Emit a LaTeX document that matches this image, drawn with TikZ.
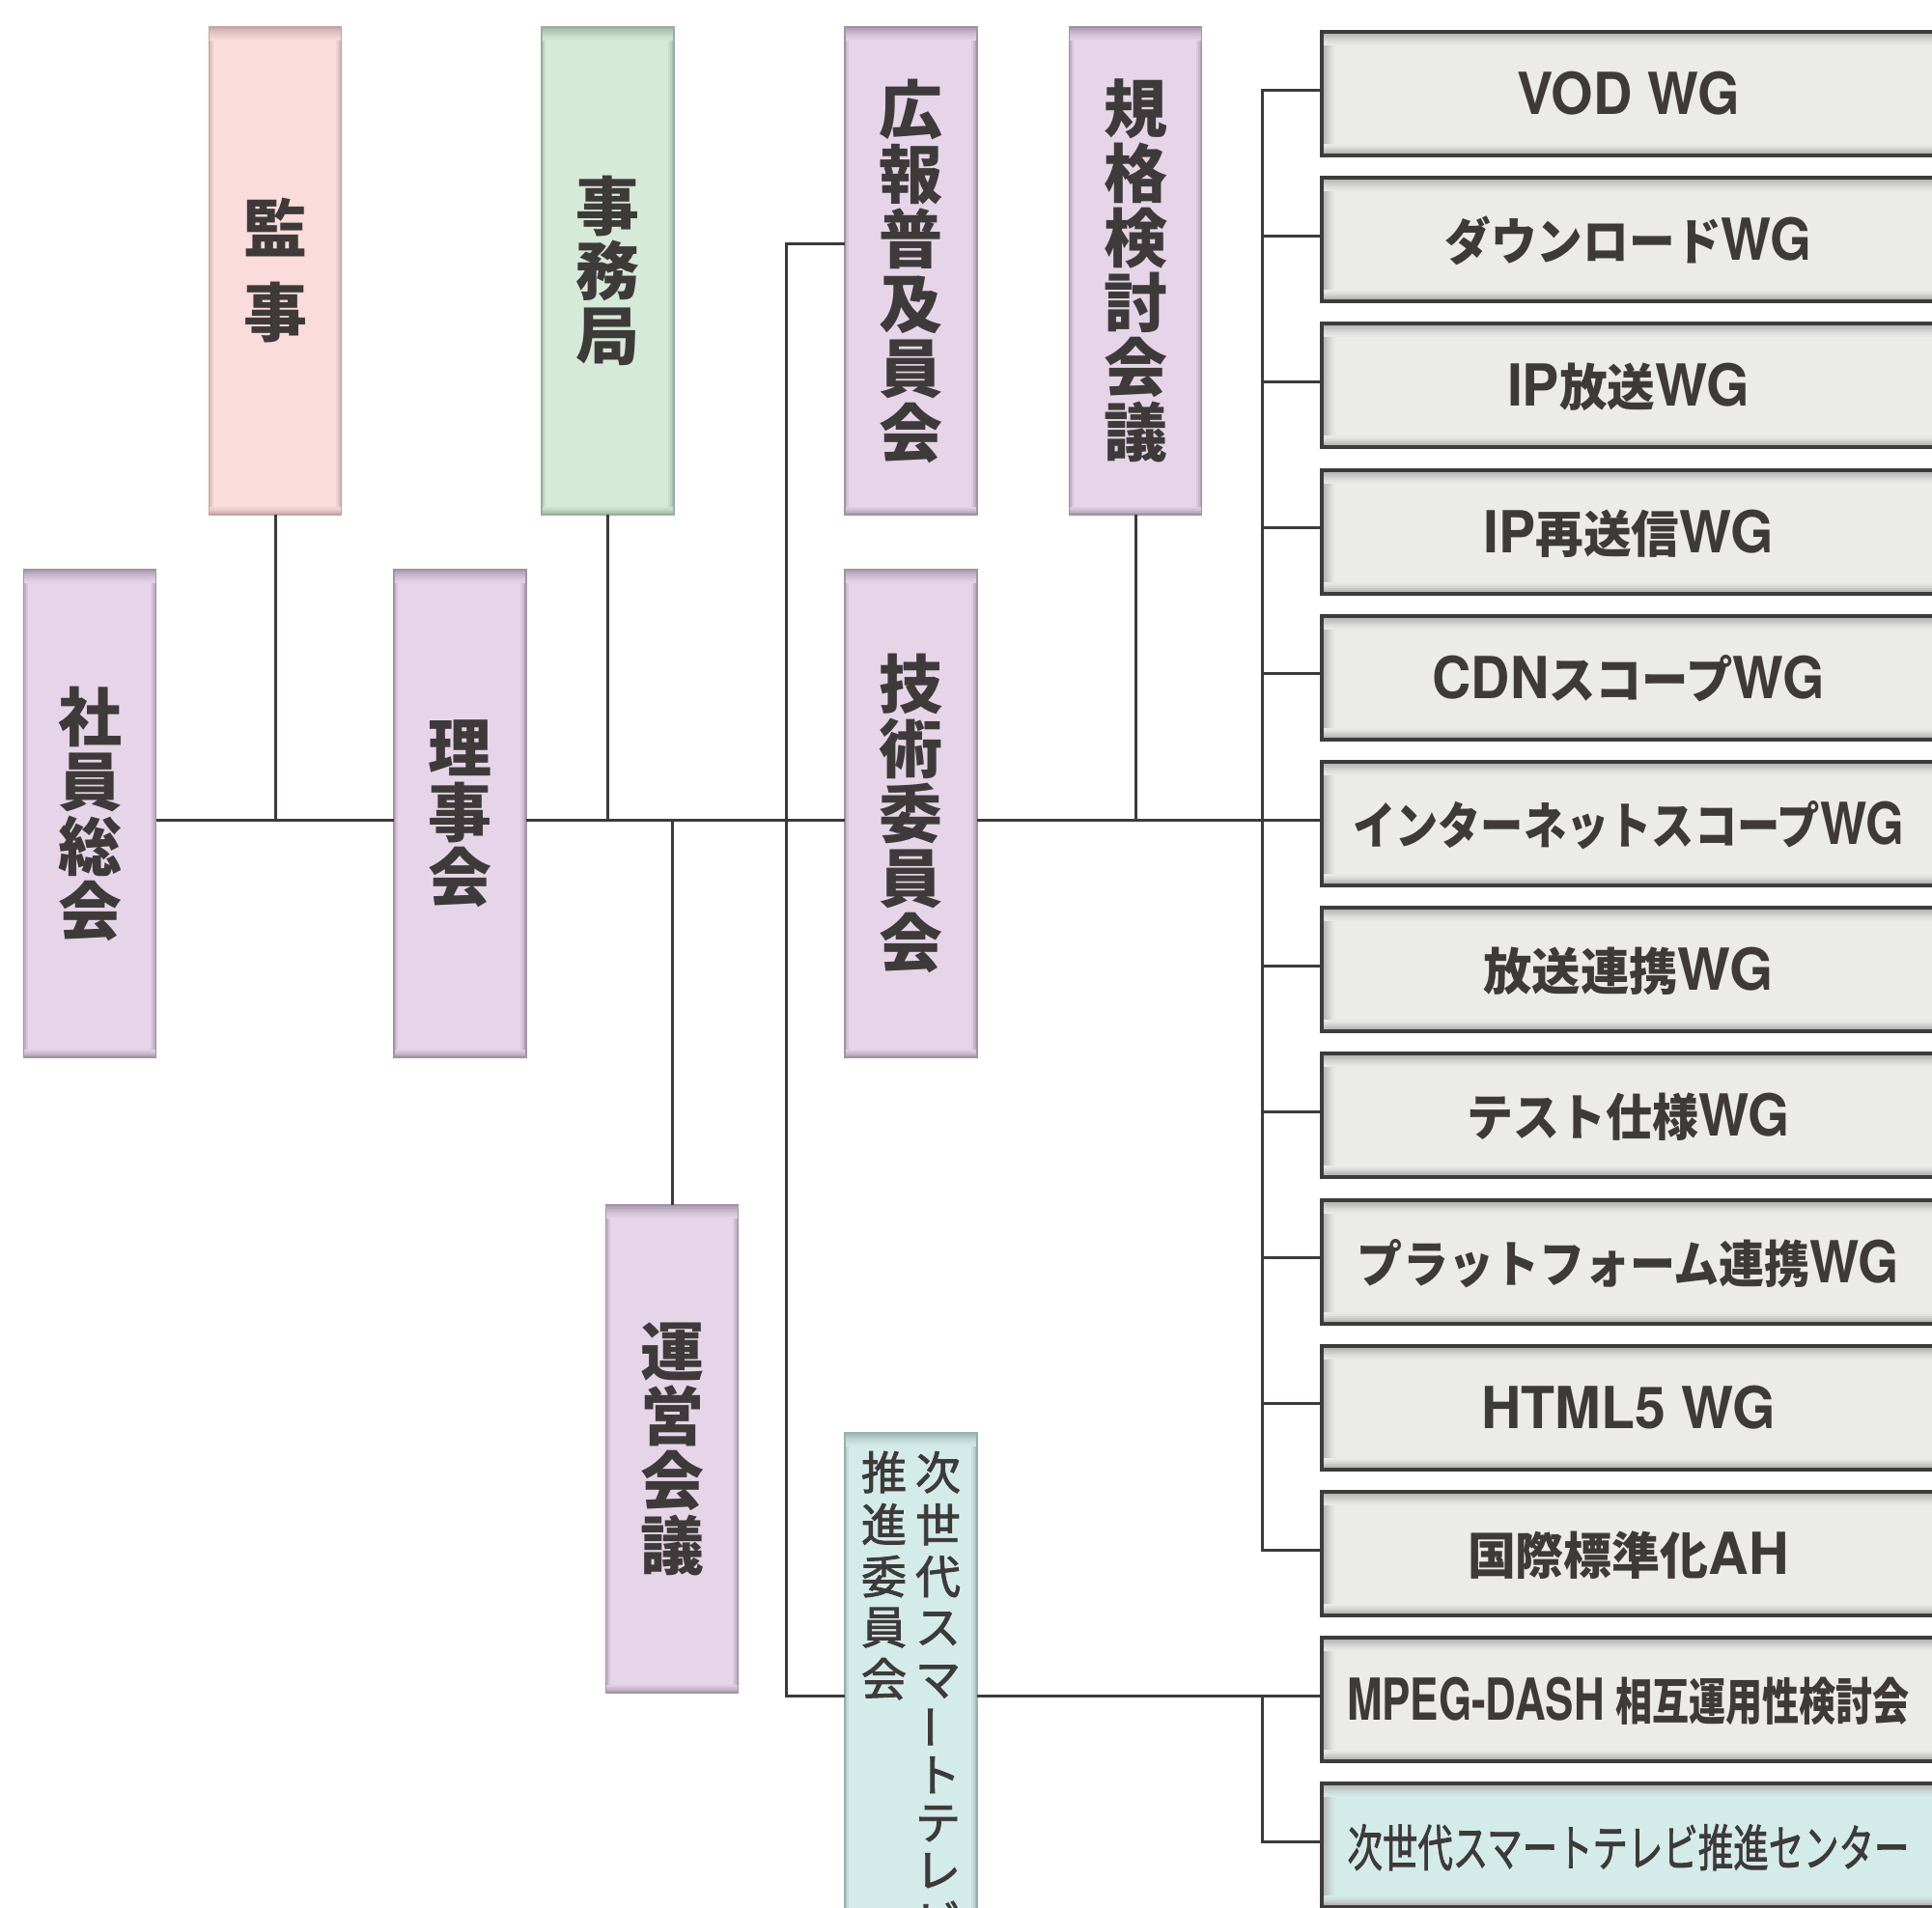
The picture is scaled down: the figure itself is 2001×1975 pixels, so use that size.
\documentclass[tikz,border=0pt]{standalone}
\usepackage{fontspec}
\usepackage{graphicx}
\newfontfamily\jpfont{Noto Sans CJK JP}
\newfontfamily\jpmed{Noto Sans CJK JP}[FakeBold=1.8]
\newfontfamily\hvfont{TeX Gyre Heros}
\definecolor{txt}{HTML}{3E3A39}
\definecolor{purf}{HTML}{E6D5E8}
\definecolor{pure}{HTML}{A393A6}
\definecolor{pinkf}{HTML}{F9DCDB}
\definecolor{pinke}{HTML}{C4A3A3}
\definecolor{grnf}{HTML}{D5EAD9}
\definecolor{grne}{HTML}{9AAF9F}
\definecolor{teaf}{HTML}{D4ECE9}
\definecolor{teae}{HTML}{98B1AE}
\definecolor{gryf}{HTML}{EBEBEA}
\definecolor{gryb}{HTML}{3D3B3B}
\definecolor{gryi}{HTML}{B4B4B3}
\newcommand\La[1]{{\hvfont\bfseries\fontsize{60}{60}\selectfont #1}}
\newcommand\Ja[1]{{\jpfont\bfseries\fontsize{52}{60}\selectfont #1}}
\newcommand\Jr[1]{{\jpmed\fontsize{52}{60}\selectfont #1}}
\newcommand\wgt[2]{\resizebox{#1pt}{\height}{#2}}
\tikzset{
  vbevel/.style 2 args={path picture={
    \foreach \k/\p in {0/55,1/25}
      \fill[#2!\p!#1] ([xshift={2pt*\k}]path picture bounding box.north west) rectangle ([xshift={2pt*\k+2pt}]path picture bounding box.south west);
    \foreach \k/\p in {0/75,1/45,2/18}
      \fill[#2!\p!#1] ([xshift={-2pt*\k}]path picture bounding box.north east) rectangle ([xshift={-2pt*\k-2pt}]path picture bounding box.south east);
    \foreach \k/\p in {0/85,1/68,2/52,3/38,4/26,5/15,6/6}
      \fill[#2!\p!#1] ([yshift={-2pt*\k}]path picture bounding box.north west) rectangle ([yshift={-2pt*\k-2pt}]path picture bounding box.north east);
    \foreach \k/\p in {0/80,1/55,2/32,3/14}
      \fill[#2!\p!#1] ([yshift={2pt*\k}]path picture bounding box.south west) rectangle ([yshift={2pt*\k+2pt}]path picture bounding box.south east);
  }},
  wbevel/.style={path picture={
    \foreach \k/\p in {0/95,1/90,2/72,3/52,4/34,5/18,6/7}
      \fill[gryi!\p!#1] ([xshift={2pt*\k}]path picture bounding box.north west) rectangle ([xshift={2pt*\k+2pt}]path picture bounding box.south west);
    \foreach \k/\p in {0/95,1/90,2/72,3/52,4/34,5/18,6/7}
      \fill[gryi!\p!#1] ([yshift={-2pt*\k}]path picture bounding box.north west) rectangle ([yshift={-2pt*\k-2pt}]path picture bounding box.north east);
    \foreach \k/\p in {0/95,1/90,2/65,3/40,4/18,5/6}
      \fill[gryi!\p!#1] ([yshift={2pt*\k}]path picture bounding box.south west) rectangle ([yshift={2pt*\k+2pt}]path picture bounding box.south east);
  }},
  vbase/.style 2 args={draw=#2, line width=1.2pt, fill=#1, vbevel={#1}{#2},
    minimum width=137pt, minimum height=505pt, inner sep=0pt, outer sep=0pt, text=txt},
  vbox/.style 2 args={vbase={#1}{#2}, align=center,
    font=\jpfont\bfseries\fontsize{66}{67}\selectfont},
  wgbox/.style={draw=gryb, line width=4pt, fill=#1, wbevel=#1,
    minimum width=635pt, minimum height=128pt, inner sep=0pt, outer sep=0pt,
    text=txt, text height=43pt, text depth=0pt},
  conn/.style={draw=txt, line width=3pt}
}
\begin{document}
\begin{tikzpicture}[x=1pt,y=-1pt]
\useasboundingbox (0,0) rectangle (2001,1975);
\clip (0,0) rectangle (2001,1975);
\fill[white] (0,0) rectangle (2001,1975);

% vertical boxes
\node[vbox={purf}{pure}] (sha) at (93,842.5) {社\\員\\総\\会};
\node[vbox={pinkf}{pinke}] (kan) at (285,280.5) {監\\[20pt]事};
\node[vbox={purf}{pure}] (rij) at (476.5,842.5) {理\\事\\会};
\node[vbox={grnf}{grne}] (jim) at (629.5,280.5) {事\\務\\局};
\node[vbox={purf}{pure}] (une) at (696,1500.5) {運\\営\\会\\議};
\node[vbox={purf}{pure}] (kou) at (943.5,280.5) {広\\報\\普\\及\\員\\会};
\node[vbox={purf}{pure}] (gij) at (943.5,842.5) {技\\術\\委\\員\\会};
\node[vbox={purf}{pure}] (kik) at (1176,280.5) {規\\格\\検\\討\\会\\議};
\node[vbase={teaf}{teae}, minimum height=557pt,
  font=\jpmed\fontsize{47}{48.3}\selectfont] (jis) at (943.5,1762.5)
  {\begin{tabular}{@{}c@{\hspace{9pt}}c@{}}
   推&次\\ 進&世\\ 委&代\\ 員&ス\\ 会&マ\\
   &\raisebox{6pt}[0pt][0pt]{\rotatebox[origin=c]{90}{ー}}\\
   &ト\\ &テ\\ &レ\\ &ビ
   \end{tabular}};

% WG boxes
\node[wgbox=gryf] (w0) at (1686.5,97) {\wgt{230}{\La{VOD WG}}};
\node[wgbox=gryf] (w1) at (1686.5,248.2) {\wgt{380}{\Ja{ダウンロード}\La{WG}}};
\node[wgbox=gryf] (w2) at (1686.5,399.4) {\wgt{251}{\La{IP}\Ja{放送}\La{WG}}};
\node[wgbox=gryf] (w3) at (1686.5,550.6) {\wgt{300}{\La{IP}\Ja{再送信}\La{WG}}};
\node[wgbox=gryf] (w4) at (1686.5,701.8) {\wgt{406}{\La{CDN}\Ja{スコープ}\La{WG}}};
\node[wgbox=gryf] (w5) at (1686.5,853) {\wgt{571}{\Ja{インターネットスコープ}\La{WG}}};
\node[wgbox=gryf] (w6) at (1686.5,1004.2) {\wgt{300}{\Ja{放送連携}\La{WG}}};
\node[wgbox=gryf] (w7) at (1686.5,1155.4) {\wgt{334}{\Ja{テスト仕様}\La{WG}}};
\node[wgbox=gryf] (w8) at (1686.5,1306.6) {\wgt{561}{\Ja{プラットフォーム連携}\La{WG}}};
\node[wgbox=gryf] (w9) at (1686.5,1457.8) {\wgt{304}{\La{HTML5 WG}}};
\node[wgbox=gryf] (w10) at (1686.5,1609) {\wgt{333}{\Ja{国際標準化}\La{AH}}};
\node[wgbox=gryf] (w11) at (1686.5,1760.2) {\wgt{583}{\La{MPEG-DASH}\hspace{16pt}\Ja{相互運用性検討会}}};
\node[wgbox=teaf] (w12) at (1686.5,1911.4) {\wgt{582}{\Jr{次世代スマートテレビ推進センター}}};

% connectors
\coordinate (busA) at (814,0);
\coordinate (busB) at (1307,0);
\foreach \i in {0,...,12} \coordinate (c\i) at ([yshift=4pt]w\i.west);
\coordinate (kouc) at ([yshift=28.5pt]kou.west);
\draw[conn] (sha.east |- c5) -- (rij.west |- c5);
\draw[conn] (kan.south) -- (kan.south |- c5);
\draw[conn] (rij.east |- c5) -- (gij.west |- c5);
\draw[conn] (jim.south) -- (jim.south |- c5);
\draw[conn] (une.north |- c5) -- (une.north);
\draw[conn] (kouc) -- (busA |- kouc) -- (busA |- c11) -- (jis.west |- c11);
\draw[conn] (jis.east |- c11) -- (c11);
\draw[conn] (gij.east |- c5) -- (c5);
\draw[conn] (kik.south) -- (kik.south |- c5);
\draw[conn] (c0) -- (busB |- c0) -- (busB |- c10) -- (c10);
\foreach \i in {1,...,9} \draw[conn] (busB |- c\i) -- (c\i);
\draw[conn] (busB |- c11) -- (busB |- c12) -- (c12);
\end{tikzpicture}
\end{document}
